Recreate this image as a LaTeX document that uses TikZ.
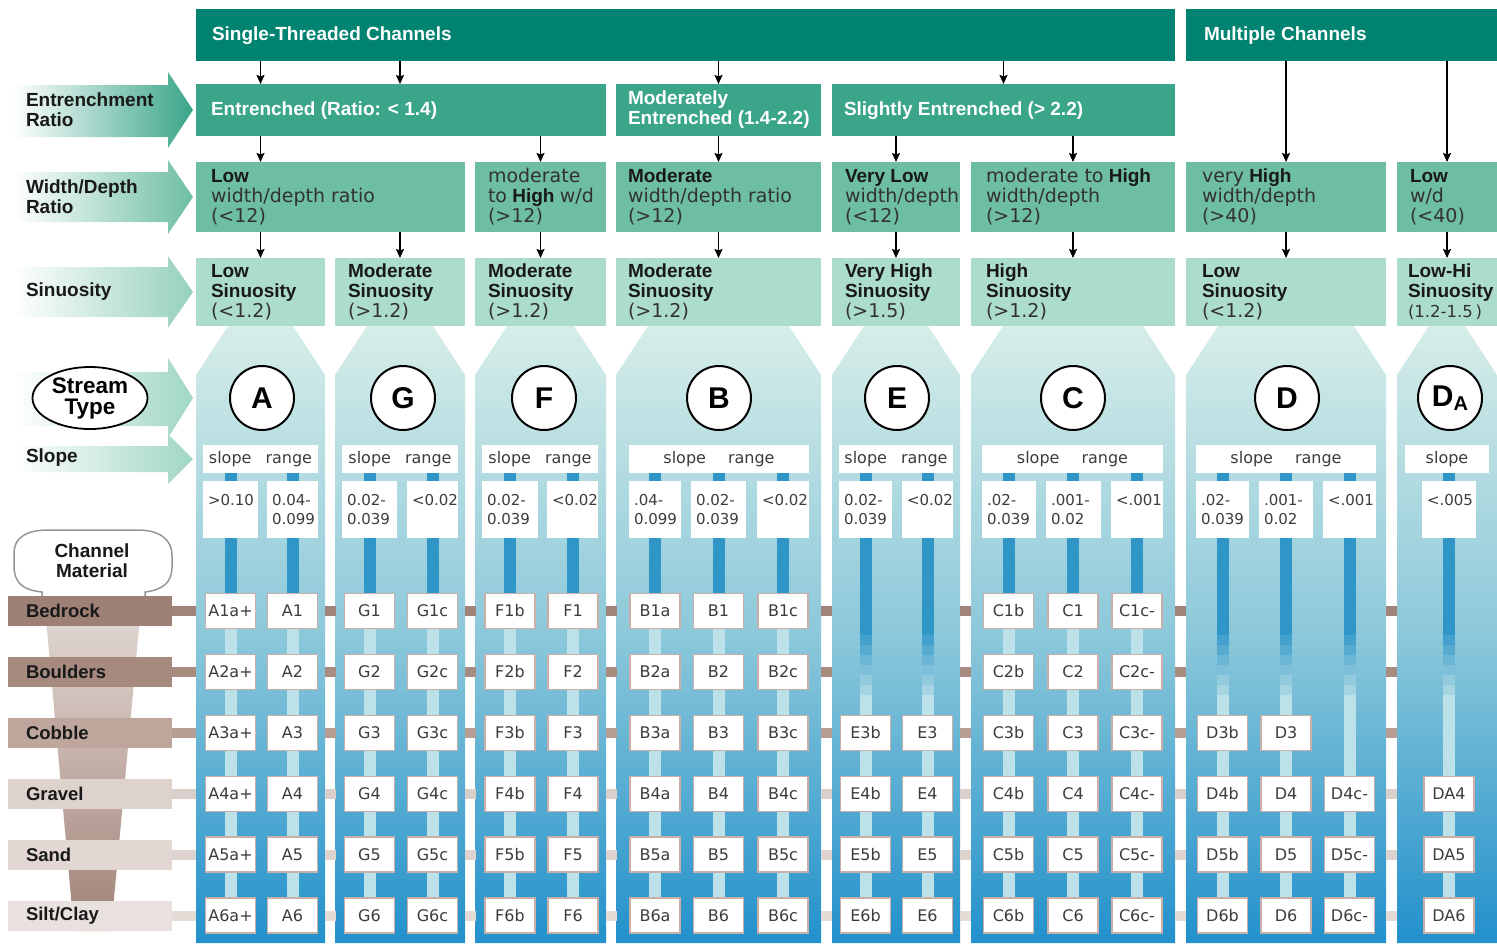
\documentclass[tikz,border=0pt]{standalone}
\usepackage{fontspec}
\setmainfont{Liberation Sans}
\newfontfamily\dvs{DejaVu Sans}
\usetikzlibrary{shapes.geometric,arrows.meta}
\definecolor{cHdr}{RGB}{0,131,112}
\definecolor{cEnt}{RGB}{58,165,137}
\definecolor{cWD}{RGB}{110,189,165}
\definecolor{cSin}{RGB}{172,220,204}
\definecolor{cSinA}{RGB}{150,208,190}
\definecolor{cLow}{RGB}{160,214,196}
\definecolor{cColTop}{RGB}{214,237,232}
\definecolor{cColMid}{RGB}{140,200,218}
\definecolor{cColBot}{RGB}{34,145,204}
\definecolor{cStripe}{RGB}{48,150,200}
\definecolor{cPale}{RGB}{188,225,232}
\definecolor{cTileBd}{RGB}{200,176,168}
\definecolor{cTxt}{RGB}{60,60,60}
\definecolor{cDark}{RGB}{25,25,25}
\definecolor{cReg}{RGB}{50,50,50}
\definecolor{cM1}{RGB}{157,128,118}
\definecolor{cM2}{RGB}{166,138,128}
\definecolor{cM3}{RGB}{190,166,157}
\definecolor{cM4}{RGB}{222,210,205}
\definecolor{cM5}{RGB}{226,215,210}
\definecolor{cM6}{RGB}{233,225,221}
\definecolor{cB1}{RGB}{160,132,122}
\definecolor{cB2}{RGB}{168,140,130}
\definecolor{cB3}{RGB}{182,158,148}
\definecolor{cB4}{RGB}{218,207,202}
\definecolor{cB5}{RGB}{222,212,207}
\definecolor{cB6}{RGB}{228,219,215}
\definecolor{cFunTop}{RGB}{228,219,215}
\definecolor{cFunMid}{RGB}{196,176,168}
\definecolor{cFunBot}{RGB}{160,130,120}
\definecolor{cOutl}{RGB}{150,150,150}

\newcommand\rgt[1]{{\dvs\color{cReg}#1}}
\newcommand\boxnode[6]{%
  \pgfmathsetmacro\bxW{#5-#3}\pgfmathsetmacro\bxH{#6-#4}%
  \node[#2, anchor=north west, minimum width=\bxW pt, minimum height=\bxH pt] (#1) at (#3,#4) {};}
\newcommand\valbox[4]{%
  \pgfmathsetmacro\bxW{#3-#2}%
  \node[fill=white, anchor=north west, minimum width=\bxW pt, minimum height=57pt] (#1) at (#2,481) {};
  \node[valtxt, anchor=north west] at ([xshift=5pt,yshift=-13pt]#1.north west) {#4};}
\newcommand\slbox[4]{\node[slb, minimum width=#3pt] (#1) at (#2,459) {#4};}
\newcommand\larrow[6]{%
  \shade[left color=white, right color=#6] (13,#1) -- (168,#1) -- (168,#3) -- (193,#5) -- (168,#4) -- (168,#2) -- (13,#2) -- cycle;}
\newcommand\colbg[2]{%
  \shade[top color=cColTop, bottom color=cColBot, middle color=cColMid] (#1+32,326) -- (#2-32,326) -- (#2,375) -- (#2,943) -- (#1,943) -- (#1,375) -- cycle;}
\newcommand\subc[5]{%
  \pgfmathsetmacro\ftop{611+60.9*(#3-1)-18}%
  \ifnum#3=1
    \fill[cStripe] (#2-6,473) rectangle (#2+6,\ftop);
  \else
    \fill[cStripe] (#2-6,473) rectangle (#2+6,625);
    \foreach \kk in {0,...,6}{\pgfmathsetmacro\pp{100-\kk*14}\fill[cStripe!\pp!cPale] (#2-6,625+\kk*10) rectangle (#2+6,636+\kk*10);}
    \fill[cPale] (#2-6,695) rectangle (#2+6,\ftop);
  \fi
  \fill[cPale] (#2-6,\ftop) rectangle (#2+6,916);
  \foreach \rw in {#3,...,6}{\node[tile] (#1-\rw) at (#2,{611+60.9*(\rw-1)}) {#4\rw#5};}}

\tikzset{
  every node/.style={inner sep=0pt, outer sep=0pt},
  hbox/.style={fill=cHdr},
  ebox/.style={fill=cEnt},
  wbox/.style={fill=cWD},
  sbox/.style={fill=cSin},
  htxt/.style={text=white, font=\bfseries\fontsize{19}{20}\selectfont, align=left, anchor=west},
  btxt/.style={text=cDark, font=\fontsize{19}{20}\selectfont, align=left, anchor=west},
  ltxt/.style={text=cDark, font=\bfseries\fontsize{19}{20}\selectfont, align=left, anchor=west},
  arr/.style={draw=black, line width=1.6pt, -{Stealth[length=9pt,width=8pt,inset=1.5pt]}},
  tile/.style={draw=cTileBd, line width=1.3pt, fill=white, minimum width=50pt, minimum height=35pt, font=\dvs\fontsize{16}{16}\selectfont, text=cTxt},
  valtxt/.style={font=\dvs\fontsize{15}{19}\selectfont, text=cTxt, align=left},
  slb/.style={fill=white, minimum height=28pt, font=\dvs\fontsize{16}{16}\selectfont, text=cTxt},
  circ/.style={circle, draw=black, line width=2pt, fill=white, minimum size=64pt, font=\bfseries\fontsize{30}{30}\selectfont},
  matbar/.style={anchor=west, minimum height=30pt, text width=128pt, inner xsep=18pt, align=left, font=\bfseries\fontsize{18.5}{20}\selectfont, text=cDark},
}

\begin{document}
\begin{tikzpicture}[x=1pt,y=-1pt]
\useasboundingbox (0,0) rectangle (1497,943);

% ---------- left label arrows ----------
\larrow{85}{137}{72}{148}{110}{cEnt}
\larrow{172}{222}{160}{234}{197}{cWD}
\larrow{267}{317}{256}{328}{292}{cSinA}
\larrow{372}{426}{358}{438}{398}{cLow}
\larrow{446}{472}{434}{484}{459}{cLow}

\node[ltxt] (lEnt) at (26,110) {Entrenchment\\Ratio};
\node[ltxt] (lWD) at (26,197) {Width/Depth\\Ratio};
\node[ltxt] (lSin) at (26,292) {Sinuosity};
\node[ltxt] (lSlope) at (26,458) {Slope};

% ---------- header rows ----------
\boxnode{st}{hbox}{196}{9}{1175}{61}
\boxnode{mc}{hbox}{1186}{9}{1497}{61}
\node[htxt] at ([xshift=16pt,yshift=-1pt]st.west) {Single-Threaded Channels};
\node[htxt] at ([xshift=18pt,yshift=-1pt]mc.west) {Multiple Channels};

\boxnode{en}{ebox}{196}{84}{606}{136}
\boxnode{mo}{ebox}{616}{84}{821}{136}
\boxnode{sl}{ebox}{832}{84}{1175}{136}
\node[htxt] at ([xshift=15pt,yshift=-1pt]en.west) {Entrenched (Ratio: < 1.4)};
\node[htxt] at ([xshift=12pt]mo.west) {Moderately\\Entrenched (1.4-2.2)};
\node[htxt] at ([xshift=12pt,yshift=-1pt]sl.west) {Slightly Entrenched (> 2.2)};

\boxnode{wd1}{wbox}{196}{162}{465}{232}
\boxnode{wd2}{wbox}{475}{162}{606}{232}
\boxnode{wd3}{wbox}{616}{162}{821}{232}
\boxnode{wd4}{wbox}{832}{162}{960}{232}
\boxnode{wd5}{wbox}{971}{162}{1175}{232}
\boxnode{wd6}{wbox}{1186}{162}{1386}{232}
\boxnode{wd7}{wbox}{1397}{162}{1497}{232}
\node[btxt] at ([xshift=15pt]wd1.west) {\textbf{Low}\\\rgt{width/depth ratio}\\\rgt{(<12)}};
\node[btxt] at ([xshift=13pt]wd2.west) {\rgt{moderate}\\\rgt{to} \textbf{High} \rgt{w/d}\\\rgt{(>12)}};
\node[btxt] at ([xshift=12pt]wd3.west) {\textbf{Moderate}\\\rgt{width/depth ratio}\\\rgt{(>12)}};
\node[btxt] at ([xshift=13pt]wd4.west) {\textbf{Very Low}\\\rgt{width/depth}\\\rgt{(<12)}};
\node[btxt] at ([xshift=15pt]wd5.west) {\rgt{moderate to} \textbf{High}\\\rgt{width/depth}\\\rgt{(>12)}};
\node[btxt] at ([xshift=16pt]wd6.west) {\rgt{very} \textbf{High}\\\rgt{width/depth}\\\rgt{(>40)}};
\node[btxt] at ([xshift=13pt]wd7.west) {\textbf{Low}\\\rgt{w/d}\\\rgt{(<40)}};

\boxnode{si1}{sbox}{196}{258}{325}{326}
\boxnode{si2}{sbox}{335}{258}{465}{326}
\boxnode{si3}{sbox}{475}{258}{606}{326}
\boxnode{si4}{sbox}{616}{258}{821}{326}
\boxnode{si5}{sbox}{832}{258}{960}{326}
\boxnode{si6}{sbox}{971}{258}{1175}{326}
\boxnode{si7}{sbox}{1186}{258}{1386}{326}
\boxnode{si8}{sbox}{1397}{258}{1497}{326}
\node[btxt] at ([xshift=15pt]si1.west) {\textbf{Low}\\\textbf{Sinuosity}\\\rgt{(<1.2)}};
\node[btxt] at ([xshift=13pt]si2.west) {\textbf{Moderate}\\\textbf{Sinuosity}\\\rgt{(>1.2)}};
\node[btxt] at ([xshift=13pt]si3.west) {\textbf{Moderate}\\\textbf{Sinuosity}\\\rgt{(>1.2)}};
\node[btxt] at ([xshift=12pt]si4.west) {\textbf{Moderate}\\\textbf{Sinuosity}\\\rgt{(>1.2)}};
\node[btxt] at ([xshift=13pt]si5.west) {\textbf{Very High}\\\textbf{Sinuosity}\\\rgt{(>1.5)}};
\node[btxt] at ([xshift=15pt]si6.west) {\textbf{High}\\\textbf{Sinuosity}\\\rgt{(>1.2)}};
\node[btxt] at ([xshift=16pt]si7.west) {\textbf{Low}\\\textbf{Sinuosity}\\\rgt{(<1.2)}};
\node[btxt] at ([xshift=11pt]si8.west) {\textbf{Low-Hi}\\\textbf{Sinuosity}\\\rgt{\fontsize{16.5}{20}\selectfont(1.2-1.5\,)}};

% ---------- arrows ----------
\draw[arr] (st.south -| si1.north) -- (en.north -| si1.north);
\draw[arr] (st.south -| si2.north) -- (en.north -| si2.north);
\draw[arr] (st.south -| mo.north) -- (mo.north);
\draw[arr] (st.south -| sl.north) -- (sl.north);
\draw[arr] (en.south -| si1.north) -- (wd1.north -| si1.north);
\draw[arr] (en.south -| wd2.north) -- (wd2.north);
\draw[arr] (mo.south) -- (wd3.north);
\draw[arr] (sl.south -| wd4.north) -- (wd4.north);
\draw[arr] (sl.south -| wd5.north) -- (wd5.north);
\draw[arr] (mc.south -| wd6.north) -- (wd6.north);
\draw[arr] (mc.south -| wd7.north) -- (wd7.north);
\draw[arr] (wd1.south -| si1.north) -- (si1.north);
\draw[arr] (wd1.south -| si2.north) -- (si2.north);
\draw[arr] (wd2.south -| si3.north) -- (si3.north);
\draw[arr] (wd3.south -| si4.north) -- (si4.north);
\draw[arr] (wd4.south -| si5.north) -- (si5.north);
\draw[arr] (wd5.south -| si6.north) -- (si6.north);
\draw[arr] (wd6.south -| si7.north) -- (si7.north);
\draw[arr] (wd7.south -| si8.north) -- (si8.north);

% ---------- columns ----------
\colbg{196}{325}
\colbg{335}{465}
\colbg{475}{606}
\colbg{616}{821}
\colbg{832}{960}
\colbg{971}{1175}
\colbg{1186}{1386}
\colbg{1397}{1497}

% sub columns: stripes and tiles
\subc{tA1}{230.5}{1}{A}{a+}
\subc{tA2}{292.5}{1}{A}{}
\subc{tG1}{369.5}{1}{G}{}
\subc{tG2}{432.5}{1}{G}{c}
\subc{tF1}{510}{1}{F}{b}
\subc{tF2}{573}{1}{F}{}
\subc{tB1}{655}{1}{B}{a}
\subc{tB2}{718.5}{1}{B}{}
\subc{tB3}{783}{1}{B}{c}
\subc{tE1}{865.5}{3}{E}{b}
\subc{tE2}{927.5}{3}{E}{}
\subc{tC1}{1008.5}{1}{C}{b}
\subc{tC2}{1073}{1}{C}{}
\subc{tC3}{1137}{1}{C}{c-}
\subc{tD1}{1222.5}{3}{D}{b}
\subc{tD2}{1286}{3}{D}{}
\subc{tD3}{1349.5}{4}{D}{c-}
\subc{tDA}{1449}{4}{DA}{}

% slope boxes
\slbox{sA}{260.5}{115}{slope\hspace{14pt}range}
\slbox{sG}{400}{116}{slope\hspace{14pt}range}
\slbox{sF}{540}{116}{slope\hspace{14pt}range}
\slbox{sB}{719}{180}{slope\hspace{22pt}range}
\slbox{sE}{896}{114}{slope\hspace{14pt}range}
\slbox{sC}{1072.5}{181}{slope\hspace{22pt}range}
\slbox{sD}{1286}{180}{slope\hspace{22pt}range}
\slbox{sDA}{1447}{84}{slope}

% value boxes
\valbox{vA1}{203}{258}{>0.10}
\valbox{vA2}{267}{318}{0.04-\\0.099}
\valbox{vG1}{342}{397}{0.02-\\0.039}
\valbox{vG2}{407}{458}{<0.02}
\valbox{vF1}{482}{538}{0.02-\\0.039}
\valbox{vF2}{547}{598}{<0.02}
\valbox{vB1}{629}{681}{.04-\\0.099}
\valbox{vB2}{691}{746}{0.02-\\0.039}
\valbox{vB3}{757}{809}{<0.02}
\valbox{vE1}{839}{892}{0.02-\\0.039}
\valbox{vE2}{902}{953}{<0.02}
\valbox{vC1}{982}{1036}{.02-\\0.039}
\valbox{vC2}{1046}{1101}{.001-\\0.02}
\valbox{vC3}{1111}{1163}{<.001}
\valbox{vD1}{1196}{1249}{.02-\\0.039}
\valbox{vD2}{1259}{1313}{.001-\\0.02}
\valbox{vD3}{1323}{1376}{<.001}
\valbox{vDA}{1422}{1476}{<.005}

% stream type circles
\node[circ] (cA) at (262,398) {A};
\node[circ] (cG) at (403,398) {G};
\node[circ] (cF) at (544,398) {F};
\node[circ] (cB) at (719,398) {B};
\node[circ] (cE) at (897,398) {E};
\node[circ] (cC) at (1073,398) {C};
\node[circ] (cD) at (1287,398) {D};
\node[circ] (cDA) at (1450,398) {D\raisebox{-0.12em}{\fontsize{20}{20}\selectfont A}};

% ---------- channel material ----------
\filldraw[fill=white, draw=cOutl, line width=1.5pt] (42,598) -- (42,592) .. controls (22,590) and (14,582) .. (14,566) -- (14,553) .. controls (14,538) and (26,530) .. (48,530) -- (138,530) .. controls (160,530) and (172,540) .. (172,555) -- (172,567) .. controls (172,583) and (162,590) .. (145,592) -- (145,598);
\node[font=\bfseries\fontsize{19}{20}\selectfont, text=cDark, align=center] (cmat) at (92,561) {Channel\\Material};
\shade[top color=cFunTop, bottom color=cFunBot, middle color=cFunMid] (44,596) -- (142,596) -- (111,931) -- (74,931) -- cycle;

\node[matbar, fill=cM1] (bedrock) at (8,611) {Bedrock};
\node[matbar, fill=cM2] (boulders) at (8,672) {Boulders};
\node[matbar, fill=cM3] (cobble) at (8,733) {Cobble};
\node[matbar, fill=cM4] (gravel) at (8,794) {Gravel};
\node[matbar, fill=cM5] (sand) at (8,855) {Sand};
\node[matbar, fill=cM6] (silt) at (8,916) {Silt/Clay};

\foreach \yy/\mcol in {611/cB1,672/cB2,733/cB3,794/cB4,855/cB5,916/cB6}{
  \fill[\mcol] (172,\yy-5) rectangle (196,\yy+5);
  \foreach \gx in {325,465,606,821,960,1175,1386}{\fill[\mcol] (\gx,\yy-5) rectangle (\gx+11,\yy+5);}
}

% stream type ellipse
\node[ellipse, draw=black, line width=1.8pt, fill=white, minimum width=115pt, minimum height=62pt, align=center, font=\bfseries\fontsize{22.5}{21}\selectfont] (stype) at (90,398) {Stream\\Type};
\end{tikzpicture}
\end{document}
